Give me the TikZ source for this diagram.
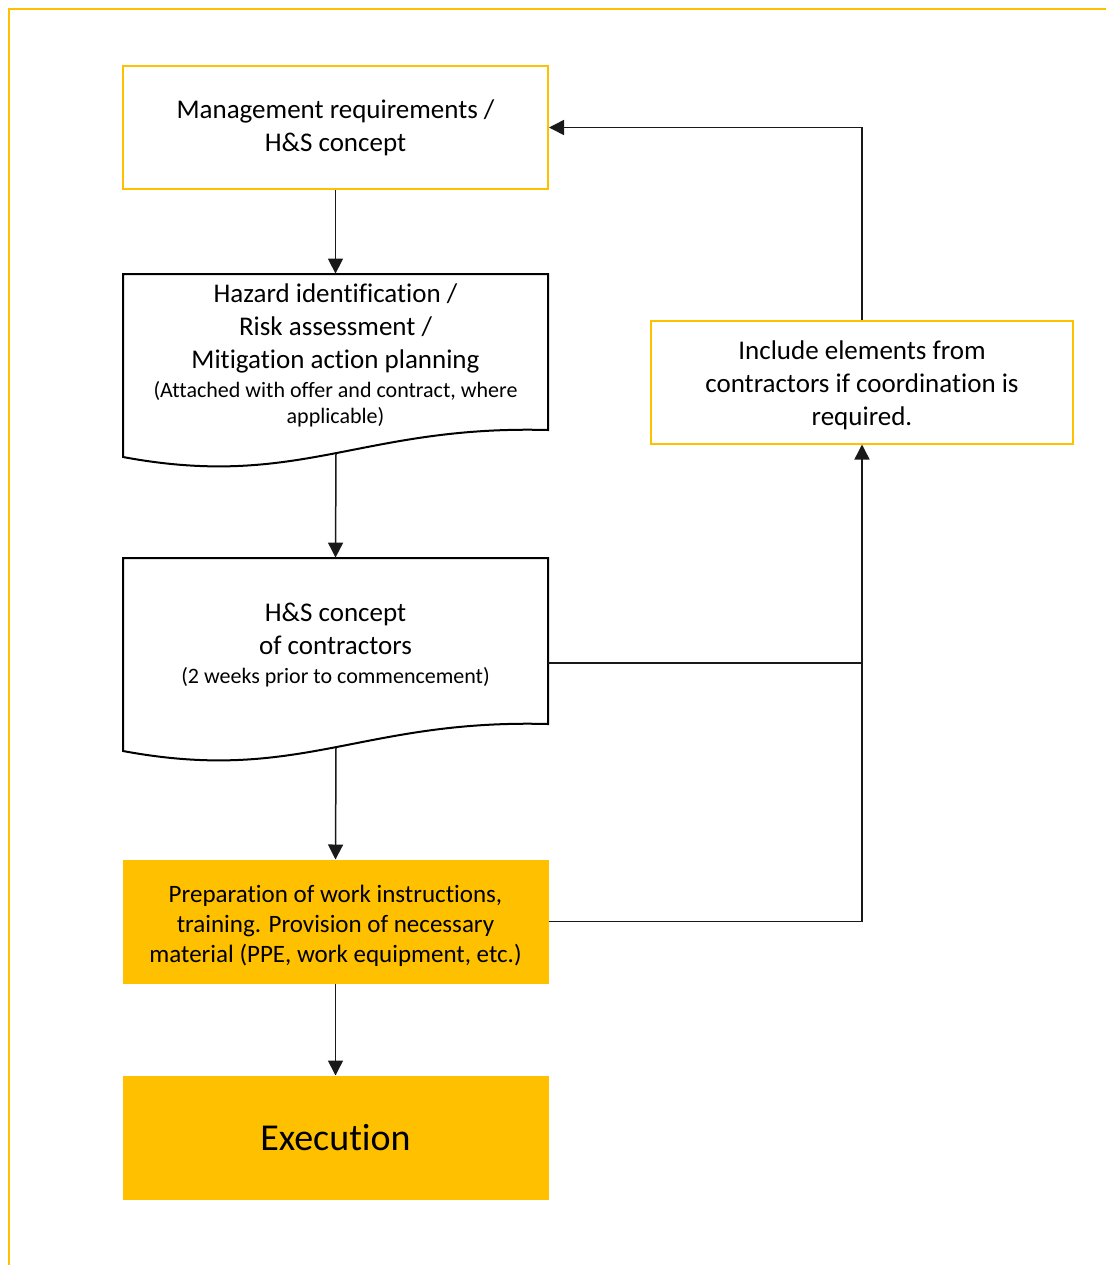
\documentclass[tikz,border=0pt]{standalone}
\usepackage{fontspec}
\setmainfont{Carlito}[Ligatures=NoCommon]
\usetikzlibrary{arrows.meta}
\definecolor{ey}{HTML}{FFC000}
\begin{document}
\begin{tikzpicture}[x=0.5pt,y=-0.5pt,
  ybox/.style={draw=ey,line width=1pt,fill=white,minimum width=212.5pt,minimum height=61.5pt,inner sep=0pt,align=center,font=\fontsize{13.5}{16.5}\selectfont},
  fbox/.style={fill=ey,draw=ey,line width=0.5pt,minimum width=212.5pt,minimum height=61.5pt,inner sep=0pt,align=center},
  docarea/.style={minimum width=212.5pt,inner sep=0pt},
  docline/.style={draw=black,line width=1pt,line join=miter},
  txt/.style={align=center,inner sep=0pt,font=\fontsize{13.5}{16.5}\selectfont},
  conn/.style={line width=0.75pt,draw=black!90},
  arr/.style={conn,-{Triangle[length=7.5pt,width=7.5pt]}},
  outerframe/.style={draw=ey,line width=1pt}
]
\newcommand{\smalltext}{\fontsize{11}{13}\selectfont}
\useasboundingbox (0,0) rectangle (1105,1265);
\draw[outerframe] (9,1270) -- (9,9) -- (1110,9);

% Box 1
\node[ybox] (mgmt) at (335.5,127.5) {Management requirements /\\ H\&S concept};

% Box 2 (document)
\node[docarea,minimum height=91.5pt] (haz) at (335.5,365.5) {};
\draw[docline] (123,274) -- (548,274) -- (548,430) .. controls (360,425) and (300,490) .. (123,457) -- cycle;
\node[txt] (hazt) at (335.5,355) {Hazard identification /\\ Risk assessment /\\ Mitigation action planning\\[-2pt] {\smalltext (Attached with offer and contract, where}\\[-3.5pt] {\smalltext applicable)}};
\coordinate (hazout) at (336,454);

% Box 3 (document)
\node[docarea,minimum height=105pt] (hsc) at (335.5,663) {};
\draw[docline] (123,558) -- (548,558) -- (548,724) .. controls (360,719) and (300,784) .. (123,751) -- cycle;
\node[txt] (hsct) at (335.5,645) {H\&S concept\\ of contractors\\[-2pt] {\smalltext (2 weeks prior to commencement)}};
\coordinate (hscout) at (336,748);

% Box 4
\node[fbox] (prep) at (335.5,921.5) {};
\node[txt,font=\fontsize{12.5}{15}\selectfont] (prept) at (335.5,926) {Preparation of work instructions,\\ training. Provision of necessary\\ material (PPE, work equipment, etc.)};

% Box 5
\node[fbox,font=\fontsize{19}{23}\selectfont] (exec) at (335.5,1137.5) {Execution};

% Box 6
\node[ybox,minimum width=211pt] (incl) at (862,382) {};
\node[txt] (inclt) at (862,385.5) {Include elements from\\ contractors if coordination is\\ required.};

% Connectors
\draw[arr] (mgmt.south) -- (haz.north);
\draw[arr] (hazout) -- (hsc.north);
\draw[arr] (hscout) -- (prep.north);
\draw[arr] (prep.south) -- (exec.north);
\draw[arr] (hsc.east) -- (incl.south |- hsc.east) -- (incl.south);
\draw[conn] (prep.east) -- (incl.south |- prep.east) -- (incl.south |- hsc.east);
\draw[arr] (incl.north) |- (mgmt.east);
\end{tikzpicture}
\end{document}
